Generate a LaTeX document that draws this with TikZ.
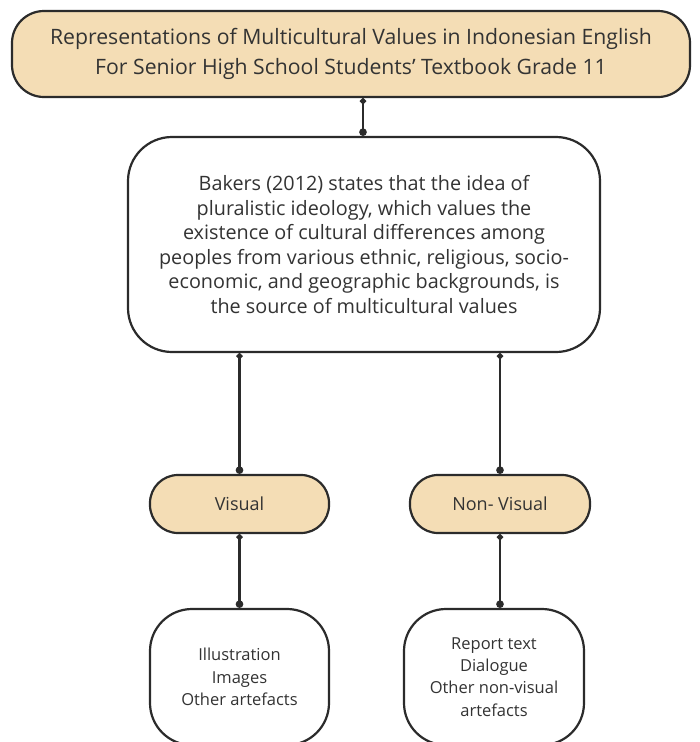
\documentclass[tikz,border=0pt]{standalone}
\usepackage{fontspec}
\setmainfont{Open Sans}
\usetikzlibrary{arrows.meta}
\definecolor{beige}{HTML}{F4DDB5}
\definecolor{edge}{HTML}{2B2B2B}
\definecolor{txt}{HTML}{333333}
\begin{document}
\begin{tikzpicture}[x=1pt,y=-1pt,
  box/.style={draw=edge,line width=2.2pt,text=txt,align=center,inner sep=0pt},
  headbox/.style={box,fill=beige,rounded corners=32pt,font=\fontsize{21.2}{30}\selectfont},
  mainbox/.style={box,fill=white,rounded corners=44pt,font=\fontsize{19.8}{24.6}\selectfont},
  pillbox/.style={box,fill=beige,rounded corners=28pt,font=\fontsize{18}{20}\selectfont},
  leafbox/.style={box,fill=white,rounded corners=42pt,font=\fontsize{16.5}{22.3}\selectfont},
  conn/.style={draw=edge,line width=2.2pt,{Circle[length=6pt]}-{Circle[length=7.5pt]}}]
\useasboundingbox (0,0) rectangle (700,742);
\clip (0,0) rectangle (700,742);
\fill[white] (0,0) rectangle (700,742);
\node[headbox,minimum width=678pt,minimum height=86pt] (top) at (351,54)
  {Representations of Multicultural Values in Indonesian English\\For Senior High School Students' Textbook Grade 11};
\node[mainbox,minimum width=472pt,minimum height=215pt] (bakers) at (364,244.5)
  {Bakers (2012) states that the idea of\\pluralistic ideology, which values the\\existence of cultural differences among\\peoples from various ethnic, religious, socio-\\economic, and geographic backgrounds, is\\the source of multicultural values};
\node[pillbox,minimum width=179pt,minimum height=58pt] (vis) at (239.5,504) {Visual};
\node[pillbox,minimum width=180pt,minimum height=58pt] (nv) at (500,504) {Non- Visual};
\node[leafbox,minimum width=179pt,minimum height=136pt] (visl) at (239.5,677)
  {Illustration\\Images\\Other artefacts};
\node[leafbox,minimum width=180pt,minimum height=136pt] (nvl) at (494,677)
  {Report text\\Dialogue\\Other non-visual\\artefacts};
\draw[conn] (top.south -| 363,0) -- (bakers.north -| 363,0);
\draw[conn] (bakers.south -| vis.north) -- (vis.north);
\draw[conn] (bakers.south -| nv.north) -- (nv.north);
\draw[conn] (vis.south) -- (vis.south |- visl.north);
\draw[conn] (nv.south) -- (nv.south |- nvl.north);
\end{tikzpicture}
\end{document}
